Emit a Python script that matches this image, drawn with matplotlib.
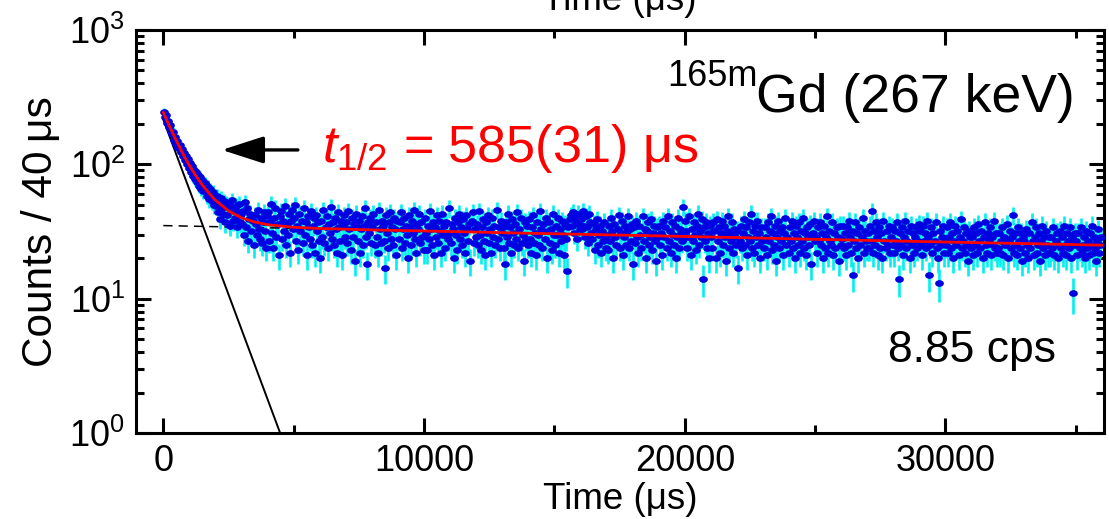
import numpy as np
import matplotlib
matplotlib.use("Agg")
import matplotlib.pyplot as plt
from matplotlib.path import Path
from matplotlib.transforms import Affine2D
from matplotlib.ticker import MultipleLocator, LogLocator, NullFormatter

plt.rcParams['font.family'] = ['Liberation Sans', 'DejaVu Sans']
plt.rcParams['mathtext.fontset'] = 'custom'
plt.rcParams['mathtext.rm'] = 'Liberation Sans'
plt.rcParams['mathtext.it'] = 'Liberation Sans:italic'
plt.rcParams['mathtext.bf'] = 'Liberation Sans:bold'

# ---------------- data ----------------
bin_width = 40.0  # microseconds per bin
count_rows = [
    [245,226,231,204,210,189,197,176,169,175,152,161,141,150,133,139,124,131,115,121,108,116,100,109,94],
    [103,88,97,82,91,78,87,74,83,69,80,66,76,63,72,70,58,68,55,65,61,53,62,50,58],
    [49,58,44,54,39,56,47,43,53,37,51,42,50,35,47,54,38,45,40,49,34,44,51,37,43],
    [36,45,30,52,34,47,27,39,43,32,38,25,42,36,30,46,33,28,40,26,37,44,32,24,41],
    [44,27,37,51,31,24,40,47,29,36,21,41,45,28,38,32,49,25,36,30,43,22,38,46,33],
    [40,50,27,35,23,43,32,38,26,47,30,37,21,41,34,28,45,25,35,40,22,42,32,37,27],
    [20,38,29,46,26,34,41,24,36,31,48,28,37,25,40,33,22,44,34,27,38,21,35,42,29],
    [37,26,45,33,23,40,29,36,19,43,34,27,38,22,33,41,25,35,47,29,18,37,31,40,26],
    [34,43,25,37,29,22,46,33,26,38,35,27,17,42,31,24,37,44,28,34,25,40,33,21,38],
    [28,37,44,24,33,40,26,35,30,20,42,34,25,38,31,46,28,22,36,33,43,26,37,29,23],
    [40,31,23,35,28,45,33,25,37,21,34,29,42,26,38,32,22,43,30,35,24,37,28,47,31],
    [26,36,33,20,40,30,23,37,43,28,34,25,39,31,22,42,33,27,36,19,38,44,26,33,29],
    [36,25,45,30,23,34,39,27,21,37,31,42,26,33,22,40,29,35,25,46,28,34,24,38,31],
    [34,24,18,37,29,43,26,34,22,39,31,25,36,28,44,24,33,40,26,30,19,37,28,35,25],
    [39,28,22,34,42,26,31,21,37,30,25,45,33,24,36,28,40,20,32,37,26,33,23,43,30],
    [25,35,30,40,22,33,27,38,30,21,36,28,16,34,39,42,35,44,31,40,37,28,43,36,33],
    [39,33,45,35,29,41,34,26,43,37,31,28,36,23,33,39,25,30,35,22,32,27,37,29,24],
    [30,23,35,27,40,32,20,36,29,25,33,42,24,31,38,21,29,35,25,32,41,24,33,27,36],
    [18,34,26,38,29,22,35,30,24,41,27,33,20,32,37,25,29,39,23,31,35,27,19,34,29],
    [35,25,31,21,38,29,34,24,41,27,32,22,37,30,25,35,20,29,40,24,33,31,27,48,29],
    [38,32,24,29,41,21,33,27,37,30,23,35,43,25,32,29,39,14,34,27,37,24,31,20,35],
    [29,24,37,32,20,39,27,34,22,31,38,25,35,29,19,32,41,24,31,27,37,22,33,29,25],
    [32,17,27,35,24,31,39,25,34,21,29,37,27,43,24,32,22,35,29,38,25,31,20,34,27],
    [24,34,29,21,37,27,32,41,23,31,25,35,19,29,38,24,32,27,34,21,31,40,25,29,22],
    [34,27,38,24,31,20,35,29,25,37,22,32,27,40,24,31,21,34,29,25,36,18,31,38,27],
    [29,22,34,27,37,25,31,20,35,24,29,41,22,32,27,25,37,21,31,24,34,29,19,35,25],
    [28,35,24,31,21,34,25,38,29,22,32,15,27,37,24,31,20,34,25,29,40,22,32,27,24],
    [31,24,35,27,45,22,32,25,37,29,21,34,24,31,20,38,27,24,32,25,35,22,29,34,25],
    [22,32,27,37,24,14,31,25,34,21,29,38,24,27,32,20,35,25,31,22,29,34,24,27,36],
    [32,25,21,35,27,31,24,38,29,15,25,34,22,31,27,37,24,20,13,32,25,29,35,22,27],
    [25,34,22,29,37,24,31,20,27,35,25,32,21,29,39,24,27,34,22,31,25,19,32,29,24],
    [29,21,34,25,31,22,36,27,24,32,20,29,37,25,22,31,27,34,21,29,25,38,24,31,22],
    [24,31,22,27,34,21,29,25,36,20,27,32,24,29,42,22,31,25,21,34,27,24,31,19,29],
    [27,22,33,25,20,31,24,37,27,21,29,34,22,25,31,19,27,35,24,29,21,32,25,22,29],
    [22,29,24,34,21,27,31,20,25,32,24,29,22,35,25,21,31,27,24,34,20,29,11,25,31],
    [27,21,31,24,34,22,25,29,20,32,24,27,21,31,25,35,22,29,24,19,27,33,22,25,29],
]

# fitted curve (red)
fit_t = [0, 200, 400, 600, 800, 1000, 1250, 1500, 1750, 2000, 2500, 3000, 3500,
         4000, 5000, 6000, 8000, 10000, 14000, 18000, 22000, 26000, 30000, 34000, 36000]
fit_y = [243, 199, 164, 137, 115, 98, 82, 70, 61, 54, 45, 40, 37.2,
         35.5, 34.0, 33.3, 32.5, 31.9, 30.7, 29.6, 28.5, 27.4, 26.4, 25.5, 25.0]

# decay component (black solid) and background (black dashed)
decay_t = [0, 4480]
decay_y = [215, 1]
bg_t = [0, 36000]
bg_y = [35, 25]

# ---------------- figure ----------------
counts = np.array([c for row in count_rows for c in row], dtype=float)
t = bin_width / 2 + bin_width * np.arange(len(counts))
err = np.sqrt(counts)

fig = plt.figure(figsize=(11.09, 5.19), dpi=100)
ax = fig.add_axes([0.1226, 0.1657, 0.8729, 0.7765])

ax.errorbar(t, counts, yerr=err, fmt='none', ecolor='#00f0f0', elinewidth=1.9,
            capsize=0, zorder=2)
ax.plot(decay_t, decay_y, color='black', lw=1.4, zorder=3)
ax.plot(bg_t, bg_y, color='black', lw=1.1, ls=(0, (6, 4)), zorder=3)
ell = Path.unit_circle().transformed(Affine2D().scale(1.3, 1.0))
ax.plot(t, counts, ls='none', marker=ell, ms=6.3, color='#0000e0', mec='none', zorder=4)
ax.plot(fit_t, fit_y, color='#ff0000', lw=2.0, zorder=5)

ax.set_yscale('log')
ax.set_ylim(1, 1000)
ax.set_xlim(-1050, 36080)

ax.xaxis.set_major_locator(MultipleLocator(10000))
ax.xaxis.set_minor_locator(MultipleLocator(5000))
ax.yaxis.set_major_locator(LogLocator(base=10, numticks=10))
ax.yaxis.set_minor_locator(LogLocator(base=10, subs=np.arange(2, 10), numticks=20))
ax.yaxis.set_minor_formatter(NullFormatter())

ax.tick_params(which='both', direction='in', top=True, right=True, width=2.2,
               labelsize=26, colors='black')
ax.tick_params(which='major', length=11, pad=8)
ax.tick_params(which='minor', length=6)
for s in ax.spines.values():
    s.set_linewidth(2.2)

ax.set_xlabel('Time (μs)', fontsize=26.5, labelpad=2)
ax.set_ylabel('Counts / 40\u2009μs', fontsize=30.5, labelpad=6)

# annotations
ax.text(0.2904, 0.6879, r'$\mathit{t}_{\mathrm{1/2}}$ = 585(31) μs', transform=fig.transFigure,
        color='#ff0000', fontsize=37.5, va='baseline', ha='left')
ax.annotate('', xy=(2244, 128), xytext=(5160, 128),
            arrowprops=dict(arrowstyle='-|>,head_length=1.3,head_width=0.42',
                            mutation_scale=20, lw=2.4, color='black',
                            shrinkA=0, shrinkB=0))

main = fig.text(1075 / 1109, 1 - 112 / 519, 'Gd (267 keV)', fontsize=38.5,
                ha='right', va='baseline')
fig.canvas.draw()
bb = main.get_window_extent(renderer=fig.canvas.get_renderer())
fig.text((bb.x0 + 2) / 1109, 1 - 86 / 519, '165m', fontsize=26, ha='right', va='baseline')

fig.text(888 / 1109, 1 - 362 / 519, '8.85 cps', fontsize=32, ha='left', va='baseline')

# cut-off label from panel above (only its lower edge is visible in the reference)
fig.text(619 / 1109, 1 - 10 / 519, 'Time (μs)', fontsize=26.5, ha='center', va='baseline')

fig.savefig('out.png', dpi=100)
